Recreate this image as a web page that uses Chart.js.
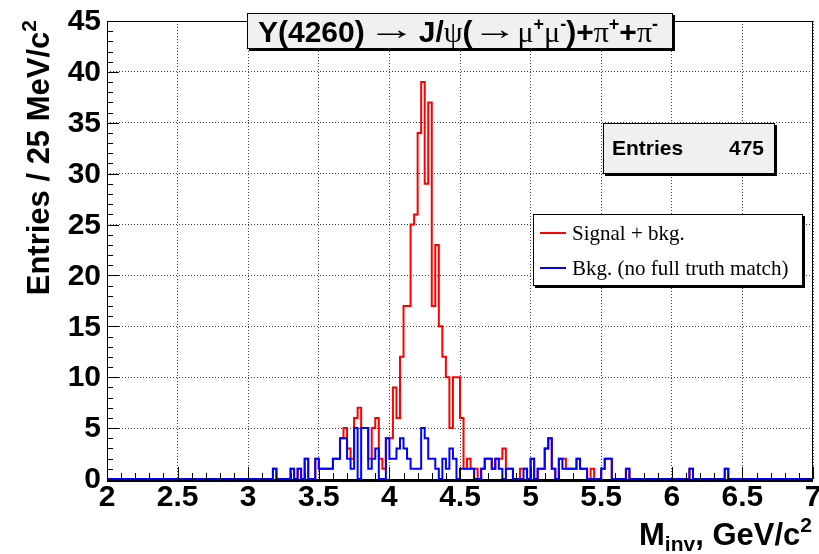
<!DOCTYPE html>
<html>
<head>
<meta charset="utf-8">
<script src="https://cdn.jsdelivr.net/npm/chart.js@4.4.1/dist/chart.umd.min.js"></script>
<style>
  html, body { margin: 0; padding: 0; background: #fff; }
  #wrap { width: 819px; height: 554px; }
</style>
</head>
<body>
<div id="wrap"><canvas id="massChart" width="819" height="554"></canvas></div>
<script>
// Invariant mass binning: 200 bins of 25 MeV from 2 to 7 GeV
const binLow = 2.0;
const binWidth = 0.025;

// Signal + background, counts per bin
const sigBkgCounts = [
    0, 0, 0, 0, 0, 0, 0, 0, 0, 0, 0, 0, 0, 0, 0, 0, 0, 0, 0, 0,
    0, 0, 0, 0, 0, 0, 0, 0, 0, 0, 0, 0, 0, 0, 0, 0, 0, 0, 0, 0,
    0, 0, 0, 0, 0, 0, 0, 1, 0, 0, 0, 0, 1, 0, 1, 0, 2, 0, 0, 2,
    1, 1, 1, 1, 2, 2, 4, 5, 3, 2, 6, 7, 5, 5, 2, 5, 6, 2, 1, 4,
    4, 9, 6, 12, 17, 17, 25, 26, 34, 39, 29, 37, 17, 23, 15, 12, 10, 5, 10, 10,
    6, 1, 2, 1, 1, 0, 1, 2, 2, 1, 2, 2, 3, 1, 1, 0, 0, 1, 1, 0,
    2, 0, 1, 1, 3, 4, 1, 0, 2, 2, 1, 1, 1, 2, 1, 1, 0, 1, 0, 0,
    1, 2, 2, 0, 0, 0, 0, 1, 0, 0, 0, 0, 0, 0, 0, 0, 0, 0, 0, 0,
    0, 0, 0, 0, 0, 1, 0, 0, 0, 0, 0, 0, 0, 0, 0, 1, 0, 0, 0, 0,
    0, 0, 0, 0, 0, 0, 0, 0, 0, 0, 0, 0, 0, 0, 0, 0, 0, 0, 0, 0
];

// Background without full truth match
const bkgCounts = [
    0, 0, 0, 0, 0, 0, 0, 0, 0, 0, 0, 0, 0, 0, 0, 0, 0, 0, 0, 0,
    0, 0, 0, 0, 0, 0, 0, 0, 0, 0, 0, 0, 0, 0, 0, 0, 0, 0, 0, 0,
    0, 0, 0, 0, 0, 0, 0, 1, 0, 0, 0, 0, 1, 0, 1, 0, 2, 0, 0, 2,
    1, 1, 1, 1, 2, 2, 4, 4, 2, 1, 5, 0, 5, 5, 1, 2, 3, 0, 0, 4,
    2, 2, 3, 4, 3, 2, 1, 1, 1, 5, 4, 2, 2, 1, 0, 2, 1, 3, 2, 0,
    1, 1, 1, 1, 0, 0, 1, 2, 2, 1, 2, 1, 0, 1, 1, 0, 0, 0, 1, 0,
    2, 0, 1, 1, 3, 4, 1, 0, 2, 1, 1, 1, 1, 2, 1, 1, 0, 0, 0, 0,
    1, 2, 2, 0, 0, 0, 0, 1, 0, 0, 0, 0, 0, 0, 0, 0, 0, 0, 0, 0,
    0, 0, 0, 0, 0, 1, 0, 0, 0, 0, 0, 0, 0, 0, 0, 1, 0, 0, 0, 0,
    0, 0, 0, 0, 0, 0, 0, 0, 0, 0, 0, 0, 0, 0, 0, 0, 0, 0, 0, 0
];

const xTicks = [2, 2.5, 3, 3.5, 4, 4.5, 5, 5.5, 6, 6.5, 7];
const xTickLabels = ['2', '2.5', '3', '3.5', '4', '4.5', '5', '5.5', '6', '6.5', '7'];
const yTicks = [0, 5, 10, 15, 20, 25, 30, 35, 40, 45];
const yTickLabels = ['0', '5', '10', '15', '20', '25', '30', '35', '40', '45'];
const legendLabels = ['Signal + bkg.', 'Bkg. (no full truth match)'];
const entries = 475;

const SANS_B = s => `bold ${s}px "Liberation Sans", Arial, sans-serif`;
const SYMB = s => `${s}px "Liberation Serif", "DejaVu Serif", serif`;
const TIMES = s => `${s}px "Liberation Serif", "Times New Roman", serif`;

// histogram outline: two corners per bin
function stepPoints(counts) {
    const pts = [];
    counts.forEach((n, i) => {
        const lo = binLow + i * binWidth;
        pts.push({ x: lo, y: n });
        pts.push({ x: lo + binWidth, y: n });
    });
    return pts;
}

// draws a run of text pieces with their own fonts, offsets and stretch
function drawRich(ctx, parts, x, y, align) {
    let total = 0;
    parts.forEach(p => {
        ctx.font = p.font;
        p.w = ctx.measureText(p.text).width * (p.sx || 1) + (p.pad || 0);
        total += p.w;
    });
    let cx = x;
    if (align === 'right') cx = x - total;
    if (align === 'center') cx = x - total / 2;
    ctx.textAlign = 'left';
    parts.forEach(p => {
        ctx.font = p.font;
        ctx.save();
        ctx.translate(cx + (p.pad || 0) / 2, y + (p.dy || 0));
        ctx.scale(p.sx || 1, 1);
        ctx.fillText(p.text, 0, 0);
        ctx.restore();
        cx += p.w;
    });
    return total;
}

function pave(ctx, x, y, w, h, fill, shadow) {
    ctx.fillStyle = '#000';
    ctx.fillRect(x + shadow, y + shadow, w, h);
    ctx.fillStyle = fill;
    ctx.fillRect(x, y, w, h);
    ctx.strokeStyle = '#000';
    ctx.lineWidth = 1;
    ctx.strokeRect(x + 0.5, y + 0.5, w - 1, h - 1);
}

const rootStyle = {
    id: 'rootStyle',
    afterDatasetsDraw(chart) {
        const ctx = chart.ctx;
        const xs = chart.scales.x;
        const ys = chart.scales.y;
        const a = chart.chartArea;
        ctx.save();

        // frame
        ctx.strokeStyle = '#000';
        ctx.lineWidth = 1;
        ctx.strokeRect(a.left + 0.5, a.top + 0.5, a.right - a.left - 1, a.bottom - a.top);
        ctx.fillStyle = '#000';
        ctx.fillRect(a.left, a.bottom + 1, a.right - a.left, 2);

        // ticks pointing into the frame
        ctx.beginPath();
        for (let k = 0; k <= 50; k++) {
            const px = Math.round(xs.getPixelForValue(binLow + k * 0.1)) + 0.5;
            const len = k % 5 === 0 ? 12 : 6;
            ctx.moveTo(px, a.bottom);
            ctx.lineTo(px, a.bottom - len);
        }
        for (let k = 0; k <= 45; k++) {
            const py = Math.round(ys.getPixelForValue(k)) + 0.5;
            const len = k % 5 === 0 ? 12 : 6;
            ctx.moveTo(a.left, py);
            ctx.lineTo(a.left + len, py);
        }
        ctx.stroke();

        // tick labels
        ctx.fillStyle = '#000';
        ctx.font = SANS_B(30);
        ctx.textBaseline = 'middle';
        ctx.textAlign = 'right';
        yTicks.forEach((v, i) => {
            ctx.fillText(yTickLabels[i], a.left - 6, ys.getPixelForValue(v) + 1);
        });
        ctx.textAlign = 'center';
        xTicks.forEach((v, i) => {
            ctx.fillText(xTickLabels[i], xs.getPixelForValue(v), a.bottom + 19);
        });

        // axis titles
        ctx.textBaseline = 'alphabetic';
        drawRich(ctx, [
            { text: 'M', font: SANS_B(31) },
            { text: 'inv', font: SANS_B(21), dy: 6 },
            { text: ', GeV/c', font: SANS_B(31) },
            { text: '2', font: SANS_B(21), dy: -13 }
        ], 812, 545, 'right');

        ctx.save();
        ctx.translate(49, 20);
        ctx.rotate(-Math.PI / 2);
        drawRich(ctx, [
            { text: 'Entries / 25 MeV/c', font: SANS_B(31) },
            { text: '2', font: SANS_B(21), dy: -13 }
        ], 0, 0, 'right');
        ctx.restore();

        // title
        pave(ctx, 247, 13, 426, 36, '#f0f0f0', 2);
        ctx.fillStyle = '#000';
        const sup = (t) => ({ text: t, font: SANS_B(18), dy: -12 });
        drawRich(ctx, [
            { text: 'Y(4260)', font: SANS_B(30) },
            { text: '\u2192', font: SYMB(30), sx: 1.6, pad: 6, dy: -3 },
            { text: 'J/', font: SANS_B(30) },
            { text: '\u03c8', font: SYMB(30) },
            { text: '(', font: SANS_B(30) },
            { text: '\u2192', font: SYMB(30), sx: 1.5, dy: -3 },
            { text: '\u03bc', font: SYMB(30) },
            sup('+'),
            { text: '\u03bc', font: SYMB(30) },
            sup('-'),
            { text: ')+', font: SANS_B(30) },
            { text: '\u03c0', font: SYMB(30) },
            sup('+'),
            { text: '+', font: SANS_B(30) },
            { text: '\u03c0', font: SYMB(30) },
            sup('-')
        ], 258, 42, 'left');

        // statistics box
        pave(ctx, 603, 123, 172, 51, '#f0f0f0', 2);
        ctx.fillStyle = '#000';
        ctx.font = SANS_B(21);
        ctx.textBaseline = 'middle';
        ctx.textAlign = 'left';
        ctx.fillText('Entries', 612, 149);
        ctx.textAlign = 'right';
        ctx.fillText(String(entries), 764, 149);

        // legend
        pave(ctx, 533, 214, 270, 72, '#fff', 2);
        const legendColors = chart.data.datasets.map(d => d.borderColor);
        const rowsY = [233, 268];
        legendLabels.forEach((label, i) => {
            ctx.strokeStyle = legendColors[i];
            ctx.lineWidth = 2;
            ctx.beginPath();
            ctx.moveTo(540, rowsY[i]);
            ctx.lineTo(566, rowsY[i]);
            ctx.stroke();
            ctx.fillStyle = '#000';
            ctx.font = TIMES(21);
            ctx.textAlign = 'left';
            ctx.textBaseline = 'middle';
            ctx.fillText(label, 572, rowsY[i] + 1);
        });

        ctx.restore();
    }
};

const ctx = document.getElementById('massChart').getContext('2d');
const chart = new Chart(ctx, {
    type: 'line',
    data: {
        datasets: [{
            label: legendLabels[0],
            data: stepPoints(sigBkgCounts),
            borderColor: 'rgb(255, 0, 0)',
            borderWidth: 2,
            pointRadius: 0,
            tension: 0,
            fill: false,
            clip: false,
            order: 2
        }, {
            label: legendLabels[1],
            data: stepPoints(bkgCounts),
            borderColor: 'rgb(0, 0, 255)',
            borderWidth: 2,
            pointRadius: 0,
            tension: 0,
            fill: false,
            clip: false,
            order: 1
        }]
    },
    options: {
        responsive: false,
        devicePixelRatio: 1,
        animation: false,
        layout: { padding: { top: 21, right: 6, left: 0, bottom: 0 } },
        plugins: {
            legend: { display: false },
            tooltip: { enabled: false }
        },
        scales: {
            x: {
                type: 'linear',
                min: 2,
                max: 7,
                afterBuildTicks: s => { s.ticks = xTicks.map(v => ({ value: v })); },
                afterFit: s => { s.height = 75; },
                ticks: { display: false },
                grid: { color: 'rgba(0,0,0,0.75)', lineWidth: 1, drawTicks: false },
                border: { display: false, dash: [1, 2] }
            },
            y: {
                type: 'linear',
                min: 0,
                max: 45,
                afterBuildTicks: s => { s.ticks = yTicks.map(v => ({ value: v })); },
                afterFit: s => { s.width = 107; },
                ticks: { display: false },
                grid: { color: 'rgba(0,0,0,0.75)', lineWidth: 1, drawTicks: false },
                border: { display: false, dash: [1, 2] }
            }
        }
    },
    plugins: [rootStyle]
});
</script>
</body>
</html>
